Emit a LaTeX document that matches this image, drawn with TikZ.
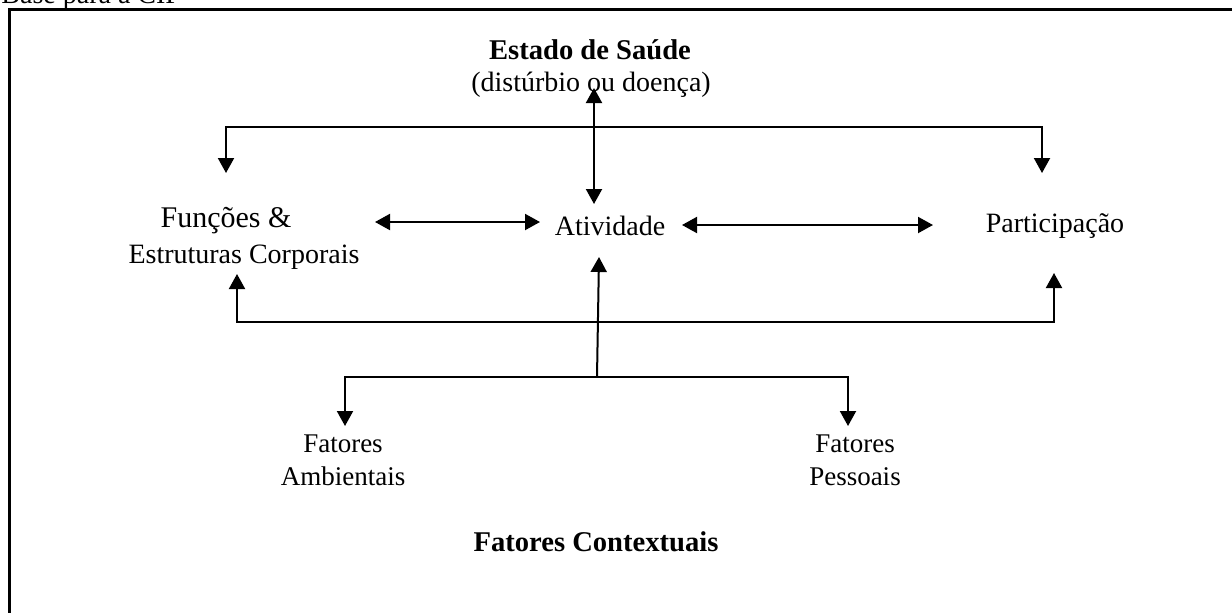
\documentclass[tikz,border=0pt]{standalone}
\usepackage{fontspec}
\setmainfont{Liberation Serif}
\usetikzlibrary{arrows.meta}
\begin{document}
\begin{tikzpicture}[x=0.5pt,y=-0.5pt,
  lbl/.style={inner sep=0pt,font=\fontsize{14}{17.5}\selectfont},
  small/.style={inner sep=0pt,font=\fontsize{13.5}{16.5}\selectfont},
  tip/.style={Triangle[width=8pt,length=7.5pt]},
  conn/.style={line width=1pt,-{Triangle[width=8pt,length=7.5pt]}},
  dconn/.style={line width=1pt,{Triangle[width=8pt,length=7.5pt]}-{Triangle[width=8pt,length=7.5pt]}},
  frame/.style={line width=1.5pt}]
\useasboundingbox (0,0) rectangle (1232,612);
\clip (0,0) rectangle (1232,612);
% frame
\draw[frame] (9,700) -- (9,9) -- (1300,9);
\node[lbl,anchor=base west] (cap) at (1,3) {Base para a CIF};
% nodes
\node[lbl,anchor=base,font=\fontsize{14.3}{17.5}\selectfont\bfseries] (estado) at (590,59) {Estado de Saúde};
\node[lbl,anchor=base] (dist) at (591,91) {(distúrbio ou doença)};
\node[lbl,anchor=base] (ativ) at (610,235) {Atividade};
\node[lbl,anchor=base] (part) at (1055,232) {Participação};
\node[lbl,anchor=base,font=\fontsize{15}{17.5}\selectfont] (fun) at (226,227) {Funções \&};
\node[lbl,anchor=base] (estr) at (244,263) {Estruturas Corporais};
\node[small,anchor=base] (fat1) at (343,452) {Fatores};
\node[small,anchor=base] (amb) at (343,485) {Ambientais};
\node[small,anchor=base] (fat2) at (855,452) {Fatores};
\node[small,anchor=base] (pes) at (855,485) {Pessoais};
\node[lbl,anchor=base,font=\fontsize{14.3}{17.5}\selectfont\bfseries] (ctx) at (596,551) {Fatores Contextuais};
% coordinates
\coordinate (vt) at (594,88);
\coordinate (vb) at (594,204);
\coordinate (tl) at (226,127);
\coordinate (tr) at (1042,127);
\coordinate (tla) at (226,173);
\coordinate (tra) at (1042,173);
\coordinate (hl1) at (375,222);
\coordinate (hl2) at (540,222);
\coordinate (hr1) at (682,225);
\coordinate (hr2) at (933,225);
\coordinate (bl) at (237,322);
\coordinate (br) at (1054,322);
\coordinate (bla) at (237,274);
\coordinate (bra) at (1054,273);
\coordinate (cu0) at (597,377);
\coordinate (cu1) at (599,257);
\coordinate (fl) at (345,377);
\coordinate (fr) at (848,377);
\coordinate (fla) at (345,426);
\coordinate (fra) at (848,426);
% connectors
\draw[dconn] (vb) -- (vt);
\draw[dconn] (tla) -- (tl) -- (tr) -- (tra);
\draw[dconn] (hl1) -- (hl2);
\draw[dconn] (hr1) -- (hr2);
\draw[dconn] (bla) -- (bl) -- (br) -- (bra);
\draw[conn] (cu0) -- (cu1);
\draw[dconn] (fla) -- (fl) -- (fr) -- (fra);
\end{tikzpicture}
\end{document}
